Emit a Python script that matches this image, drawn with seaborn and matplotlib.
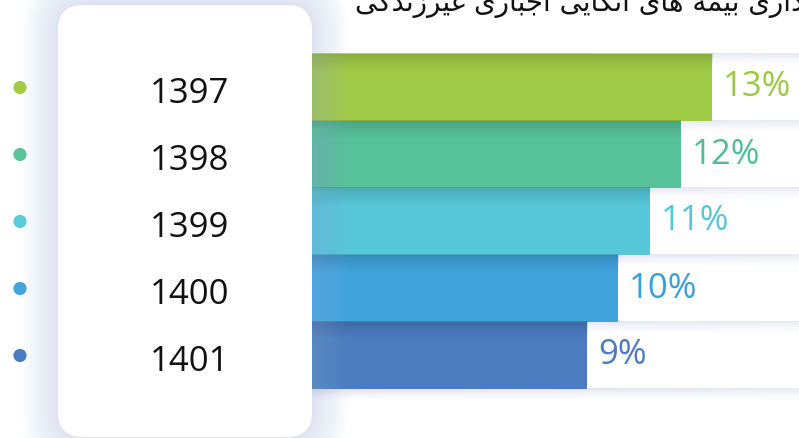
import numpy as np
import matplotlib
matplotlib.use('Agg')
import matplotlib.pyplot as plt
import matplotlib.transforms as mtransforms
from matplotlib.patches import FancyBboxPatch
import seaborn as sns

# chart data
years = ['1397', '1398', '1399', '1400', '1401']
shares = [13, 12, 11, 10, 9]
bar_colors = ['#a0cb46', '#57c19a', '#56c7d8', '#3fa3dc', '#4b7cc0']
label_colors = ['#9cc845', '#4fbe96', '#55c5d8', '#3a9edb', '#4d7abf']
dot_colors = ['#a3cc45', '#5ac39a', '#5ccbd9', '#41a4de', '#4a7cc1']

# persian title, shaped with presentation forms and put in visual order
title_logical = ('\ufeb3\ufeec\ufee2 '
                 '\ufeed\ufe8d\ufb94\ufeac\ufe8d\ufead\ufeef '
                 '\ufe91\ufef4\ufee4\ufeea '
                 '\ufeeb\ufe8e\ufeef '
                 '\ufe8d\ufe97\ufedc\ufe8e\ufef3\ufef0 '
                 '\ufe8d\ufe9f\ufe92\ufe8e\ufead\ufeef '
                 '\ufecf\ufef4\ufeae\ufeaf\ufee7\ufeaa\ufb94\ufef0')
title_visual = title_logical[::-1]

W, H = 799, 438
sns.set_style('white')
plt.rcParams['font.family'] = ['Open Sans', 'DejaVu Sans']

fig = plt.figure(figsize=(W / 100, H / 100), dpi=100)
ax = fig.add_axes([0, 0, 1, 1])

sns.barplot(x=shares, y=years, hue=years, palette=bar_colors, orient='h',
            width=1.0, saturation=1, legend=False, linewidth=0, ax=ax, zorder=2)

# pixel layout: value 0 sits under the card edge
x0_px, px_per_unit = 306, 31.24
row_px, row0_px = 67, 87.5
xmin, xmax = -x0_px / px_per_unit, (W - x0_px) / px_per_unit
ytop, ybot = -row0_px / row_px, (H - row0_px) / row_px

# soft shadow at the top of each white track (right of the card only)
n = len(years)
grad = np.linspace(1, 0, 40) ** 1.6
for i in range(n + 1):
    y_edge = i - 0.5
    xs = np.linspace(0, 1, 200)
    alpha = np.outer(grad, 1 - 0.35 * xs) * 0.55
    rgba = np.zeros(alpha.shape + (4,))
    rgba[..., 0], rgba[..., 1], rgba[..., 2] = 0.74, 0.77, 0.88
    rgba[..., 3] = alpha
    ax.imshow(rgba, extent=[0, xmax, y_edge + 0.2, y_edge], aspect='auto',
              zorder=1, interpolation='bilinear')

# darker top band on the coloured bars
for p in ax.patches:
    bx, by, bw, bh = p.get_x(), p.get_y(), p.get_width(), p.get_height()
    band = np.linspace(1, 0, 40) ** 1.4
    rgba = np.zeros((40, 1, 4))
    rgba[..., 3] = (band * 0.16)[:, None]
    ax.imshow(rgba, extent=[bx, bx + bw, by + 0.3 * bh, by], aspect='auto',
              zorder=3, interpolation='bilinear')

# percentage labels
for i, (v, c) in enumerate(zip(shares, label_colors)):
    ax.text(v + 0.35, i, f'{v}%', color=c, fontsize=25, va='center', ha='left',
            zorder=6)

# card with bluish glow, drawn in pixels
pix = mtransforms.IdentityTransform()
cx0, cx1, cy0, cy1 = 58, 312, 5, 437
for k in range(14):
    pad = 2 + 2.6 * k
    ax.add_patch(FancyBboxPatch((cx0, H - cy1), cx1 - cx0, cy1 - cy0,
                                boxstyle=f'round,pad={pad},rounding_size={25 + pad}',
                                transform=pix, facecolor='#9db3e0', edgecolor='none',
                                alpha=0.022, zorder=4, clip_on=False))
ax.add_patch(FancyBboxPatch((cx0, H - cy1), cx1 - cx0, cy1 - cy0,
                            boxstyle='round,pad=0,rounding_size=25', transform=pix,
                            facecolor='white', edgecolor='none', zorder=5, clip_on=False))

# dots and year labels
blend = mtransforms.blended_transform_factory(ax.transAxes, ax.transData)
ax.scatter([20 / W] * n, range(n), s=90, c=dot_colors, transform=blend, zorder=6,
           linewidths=0)
for i, yr in enumerate(years):
    ax.text(190 / W, i + 0.09, yr, transform=blend, fontsize=25, color='#111111',
            ha='center', va='center', zorder=6)

# clipped title at the top
ax.text(355 / W, 1 - 10 / H, title_visual, transform=ax.transAxes, fontsize=20,
        family=['DejaVu Sans'], color='#111111', ha='left', va='baseline', zorder=6)

ax.set_xlim(xmin, xmax)
ax.set_ylim(ybot, ytop)
ax.axis('off')
fig.savefig('out.png', dpi=100)
